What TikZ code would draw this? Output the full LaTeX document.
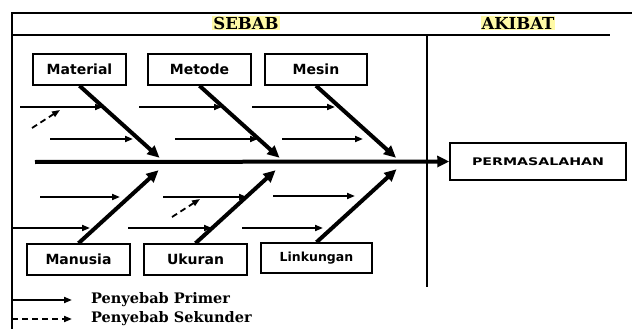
\documentclass[tikz,border=0pt]{standalone}
\usepackage{fontspec}
\setmainfont{DejaVu Serif}
\setsansfont{DejaVu Sans}
\newfontfamily\widesans[FakeStretch=1.35]{DejaVu Sans}
\usetikzlibrary{arrows.meta,calc}

\tikzset{
    frameline/.style={line width=2pt},
    causebox/.style={draw, line width=1.5pt, minimum height=31pt, inner sep=0pt,
        font=\sffamily\bfseries\fontsize{14}{16}\selectfont},
    bone/.style={line width=4pt, -{Triangle[length=12pt,width=11pt]}},
    primer/.style={line width=1.8pt, -{Triangle[length=8pt,width=6pt]}},
    sekunder/.style={primer, dash pattern=on 6pt off 4pt},
    header/.style={fill=yellow!35, inner sep=1pt, font=\bfseries\fontsize{16.5}{18}\selectfont},
    legendtext/.style={right, inner sep=0pt, font=\bfseries\fontsize{14.5}{16}\selectfont},
}

\begin{document}
\begin{tikzpicture}[x=1pt, y=-1pt]
    \useasboundingbox (0,0) rectangle (632,329);

    % frame and header
    \coordinate (tl) at (12,13);
    \coordinate (tr) at (632,13);
    \coordinate (bl) at (12,329);
    \coordinate (hl) at (12,35);
    \coordinate (hr) at (610,35);
    \coordinate (dtop) at (427,35);
    \coordinate (dbot) at (427,287);
    \draw[frameline] (bl) -- (tl) -- (tr);
    \draw[line width=2.5pt] (hl) -- (hr);
    \draw[frameline] (dtop) -- (dbot);

    \node[header] (sebab) at (246,23) {SEBAB};
    \node[header] (akibat) at (518,23) {AKIBAT};

    % cause boxes
    \node[causebox, minimum width=93pt]  (material)  at (79.5,69.5)  {Material};
    \node[causebox, minimum width=103pt] (metode)    at (199.5,69.5) {Metode};
    \node[causebox, minimum width=102pt] (mesin)     at (316,69.5)   {Mesin};
    \node[causebox, minimum width=103pt] (manusia)   at (78.5,259.5) {Manusia};
    \node[causebox, minimum width=103pt] (ukuran)    at (195.5,259.5) {Ukuran};
    \node[causebox, minimum width=111pt, minimum height=30pt,
        font=\sffamily\bfseries\fontsize{12.5}{14}\selectfont] (linkungan) at (316.5,258) {Linkungan};

    \node[draw, line width=1.5pt, minimum width=176pt, minimum height=37pt, inner sep=0pt,
        font=\widesans\bfseries\fontsize{10.5}{12}\selectfont] (masalah) at (538,161.5) {PERMASALAHAN};

    % spine
    \coordinate (kepala) at (35,162);
    \draw[line width=4pt, -{Triangle[length=12pt,width=11pt]}] (kepala) -- (masalah.west);

    % main bones
    \foreach \b in {material, metode, mesin} {
        \coordinate (\b-tip) at ($(\b.south)+(80,72)$);
        \draw[bone] (\b.south) -- (\b-tip);
    }
    \foreach \b in {manusia, ukuran, linkungan} {
        \coordinate (\b-tip) at ($(\b.north)+(80,-73)$);
        \draw[bone] (\b.north) -- (\b-tip);
    }

    % primary causes
    \foreach \n/\xa/\xb/\y in {1/20/103/107, 2/50/133/139, 3/139/222/107, 4/175/258/139,
                               5/252/335/107, 6/282/363/139, 7/40/120/197, 8/12/90/228,
                               9/163/247/197, 10/128/212/228, 11/273/355/196, 12/242/323/228} {
        \coordinate (p\n a) at (\xa,\y);
        \coordinate (p\n b) at (\xb,\y);
        \draw[primer] (p\n a) -- (p\n b);
    }

    % secondary causes
    \coordinate (s1a) at (32,128);
    \coordinate (s1b) at (60,110);
    \coordinate (s2a) at (172,217);
    \coordinate (s2b) at (200,199);
    \draw[sekunder] (s1a) -- (s1b);
    \draw[sekunder] (s2a) -- (s2b);

    % legend
    \coordinate (lg1a) at (12,300);
    \coordinate (lg1b) at (72,300);
    \coordinate (lg2a) at (12,319);
    \coordinate (lg2b) at (72,319);
    \draw[primer] (lg1a) -- (lg1b);
    \draw[sekunder] (lg2a) -- (lg2b);
    \node[legendtext] (lgprimer) at (91,300) {Penyebab Primer};
    \node[legendtext] (lgsekunder) at (91,319) {Penyebab Sekunder};
\end{tikzpicture}
\end{document}
